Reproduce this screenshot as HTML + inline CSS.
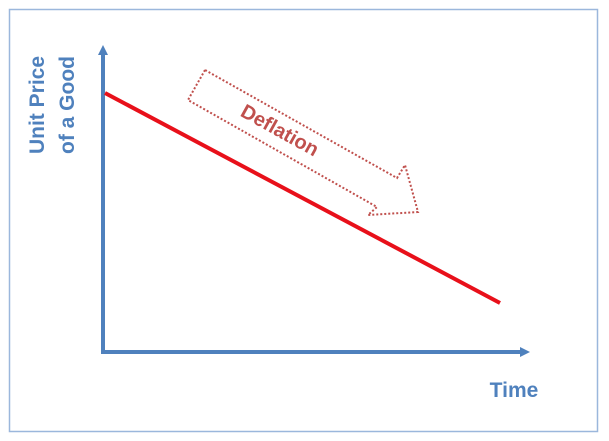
<!DOCTYPE html>
<html><head><meta charset="utf-8"><style>
html,body{margin:0;padding:0;background:#fff;}
svg{display:block;font-family:"Liberation Sans",sans-serif;}
</style></head><body>
<svg width="609" height="441" viewBox="0 0 609 441">
<defs>
<marker id="ah" markerWidth="10" markerHeight="10" refX="5" refY="5" orient="auto" markerUnits="userSpaceOnUse">
<path d="M0,0 L10,5 L0,10 z" fill="#4f81bd"/>
</marker>
</defs>
<rect x="9.5" y="9.5" width="588" height="422" fill="#fff" stroke="#9bb7dc" stroke-width="1.5"/>
<line x1="103" y1="353" x2="103" y2="50" stroke="#4f81bd" stroke-width="4" marker-end="url(#ah)"/>
<line x1="101" y1="352" x2="525" y2="352" stroke="#4f81bd" stroke-width="4" marker-end="url(#ah)"/>
<g transform="translate(50,105) rotate(-90)" fill="#4f81bd" font-weight="bold" font-size="21" text-anchor="middle">
<text x="0" y="-6">Unit Price</text>
<text x="0" y="24">of a Good</text>
</g>
<text x="514" y="397" fill="#4f81bd" font-weight="bold" font-size="21" text-anchor="middle">Time</text>
<polygon points="205,70 188,100 377,207 368,215 418,212 405,165 397,178" fill="#fff" stroke="#c0504d" stroke-width="2" stroke-dasharray="2,2"/>
<text x="280" y="137" fill="#c0504d" font-weight="bold" font-size="20" text-anchor="middle" transform="rotate(29 280 130)">Deflation</text>
<g id="series"></g>
</svg>
<script>
const times = [0, 1];
const prices = [100, 47];
function sx(t){ return 105 + t * 395; }
function sy(p){ return 93 + (100 - p) * (210 / 53); }
const g = document.getElementById('series');
const ln = document.createElementNS('http://www.w3.org/2000/svg','line');
ln.setAttribute('x1', sx(times[0])); ln.setAttribute('y1', sy(prices[0]));
ln.setAttribute('x2', sx(times[1])); ln.setAttribute('y2', sy(prices[1]));
ln.setAttribute('stroke', '#e8101a'); ln.setAttribute('stroke-width', '4');


g.appendChild(ln);
</script>
</body></html>
